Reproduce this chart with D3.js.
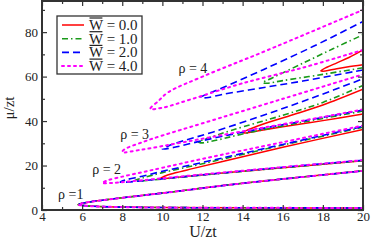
<!DOCTYPE html>
<html>
<head>
<meta charset="utf-8">
<script src="https://cdn.jsdelivr.net/npm/d3@7"></script>
<style>
body { margin: 0; background: #fff; }
svg { display: block; }
</style>
</head>
<body>
<svg id="chart"></svg>
<script>
// W-bar values shown in the legend
const wValues = ["0.0", "1.0", "2.0", "4.0"];

// lobe boundaries [U/zt, mu/zt]: from lower branch end at U=20, through tip, to upper branch end
const lobesW0 = [
    [[20, 0.9], [14, 1.0], [10, 1.1], [8, 1.3], [6.8, 1.6], [6.2, 1.9], [5.8, 2.4], [6.0, 3.0], [6.5, 3.8], [7, 4.4], [8, 5.5], [10, 7.6], [14, 12.0], [20, 17.6]],
    [[20, 22.2], [16, 19.0], [13, 16.6], [11, 15.0], [10.2, 14.2], [9.9, 14.2], [10.1, 15.2], [10.6, 16.6], [11.5, 18.6], [13, 21.8], [16, 28.2], [20, 36.2]],
    [[20, 43.2], [18, 40.2], [16, 37.4], [14.8, 35.6], [14.1, 34.6], [14.0, 34.8], [14.3, 36.2], [15, 38.6], [16.5, 42.8], [18, 47.2], [20, 54.3]],
    [[20, 65.3], [19.2, 64.3], [18.5, 63.2], [18.0, 62.4], [17.9, 62.6], [18.2, 64.2], [18.7, 66.2], [19.3, 68.6], [20, 72]]
];
const lobesW1 = [
    [[20, 0.9], [14, 1.0], [10, 1.1], [8, 1.3], [6.8, 1.6], [6.2, 1.9], [5.8, 2.4], [6.0, 3.0], [6.5, 3.8], [7, 4.4], [8, 5.5], [10, 7.6], [14, 12.0], [20, 17.6]],
    [[20, 22.2], [16, 19.0], [12, 15.7], [9.5, 13.5], [8.8, 13.0], [8.6, 13.2], [9, 14.4], [10, 16.8], [12, 20.8], [16, 29.2], [20, 37.2]],
    [[20, 44.5], [17, 39.5], [14, 34.2], [12.5, 31], [11.9, 30.2], [11.8, 30.6], [12.3, 32.4], [13.5, 36], [16, 42.6], [18, 48.4], [20, 56]],
    [[20, 64], [18, 61], [16, 58.2], [15.2, 57], [15.0, 57.2], [15.5, 59.5], [17, 66], [18.5, 72.5], [20, 78.8]]
];
const lobesW2 = [
    [[20, 0.9], [14, 1.0], [10, 1.1], [8, 1.3], [6.8, 1.6], [6.2, 1.9], [5.8, 2.4], [6.0, 3.0], [6.5, 3.8], [7, 4.4], [8, 5.5], [10, 7.6], [14, 12.0], [20, 17.6]],
    [[20, 22.4], [16, 19.2], [12, 15.8], [9.5, 13.6], [8.3, 12.6], [7.9, 12.6], [8.2, 13.6], [9, 15.2], [10, 17.4], [12, 21.4], [16, 29.5], [20, 37.6]],
    [[20, 45], [17, 40], [14, 35], [12, 31.2], [10.6, 28.2], [10, 27.4], [10.3, 28.8], [11, 31], [12.5, 35], [15, 42.5], [17.5, 50.5], [20, 59]],
    [[20, 63], [17, 58], [15, 55], [13, 52], [12.2, 50.5], [11.9, 50.6], [12.3, 52.4], [13, 55], [15, 63], [17.5, 73.5], [20, 84.8]]
];
const lobesW4 = [
    [[20, 0.9], [14, 1.0], [10, 1.1], [8, 1.3], [6.8, 1.6], [6.2, 1.9], [5.8, 2.4], [6.0, 3.0], [6.5, 3.8], [7, 4.4], [8, 5.5], [10, 7.6], [14, 12.0], [20, 17.6]],
    [[20, 22.4], [16, 19.3], [12, 16], [9, 13.4], [7.5, 12.2], [7, 12.2], [7.3, 13.4], [8, 15], [9, 17], [10, 19], [12, 23], [16, 30.5], [20, 38]],
    [[20, 45.2], [17, 40.2], [14, 35.4], [11, 30.4], [9, 27.2], [8, 26], [8.1, 27.2], [9, 30.5], [10, 33.5], [12, 39], [16, 50], [20, 61]],
    [[20, 72], [17, 64], [14, 57], [11.5, 50], [10, 46], [9.4, 45.5], [9.8, 49], [10.3, 53], [12, 60], [15, 71], [20, 90]]
];

const rhoLabels = ["\u03c1 =1", "\u03c1 = 2", "\u03c1 = 3", "\u03c1 = 4"];
const rhoLabelPos = [[4.8, 5.0], [6.5, 16.2], [7.9, 32], [10.8, 61.7]];

const xTicks = [4, 6, 8, 10, 12, 14, 16, 18, 20];
const yTicks = [0, 20, 40, 60, 80];

const styles = [
    { color: "#ff0000", dash: null, width: 1.5 },
    { color: "#1a9a1a", dash: "6,3,1.5,3", width: 1.6 },
    { color: "#0000ff", dash: "7,4", width: 1.6 },
    { color: "#ff00ff", dash: "2,4", width: 2 }
];

const width = 371, height = 240;
const mLeft = 42, mRight = 363, mTop = 1, mBottom = 210;

const svg = d3.select('#chart')
    .attr('width', width)
    .attr('height', height);

const x = d3.scaleLinear().domain([4, 20]).range([mLeft, mRight]);
const y = d3.scaleLinear().domain([0, 94]).range([mBottom, mTop]);

const line = d3.line()
    .x(d => x(d[0]))
    .y(d => y(d[1]))
    .curve(d3.curveCatmullRom.alpha(0.5));

svg.append('clipPath').attr('id', 'clip')
    .append('rect')
    .attr('x', mLeft).attr('y', mTop)
    .attr('width', mRight - mLeft).attr('height', mBottom - mTop);

const curves = svg.append('g').attr('clip-path', 'url(#clip)');
[lobesW0, lobesW1, lobesW2, lobesW4].forEach((lobes, i) => {
    const s = styles[i];
    curves.selectAll(null)
        .data(lobes)
        .enter()
        .append('path')
        .attr('d', line)
        .attr('fill', 'none')
        .attr('stroke', s.color)
        .attr('stroke-width', s.width)
        .attr('stroke-dasharray', s.dash)
        .attr('stroke-linecap', i === 3 ? 'round' : 'butt');
});

// axes with inward ticks, mirrored on top and right
const axisColor = '#333';
const fontSerif = '"Liberation Serif", "DejaVu Serif", serif';

function styleAxis(g) {
    g.select('.domain').remove();
    g.selectAll('line').attr('stroke', axisColor).attr('stroke-width', 1.2);
    g.selectAll('text').attr('font-family', fontSerif).attr('font-size', 13).attr('fill', '#222');
}

svg.append('g').attr('transform', `translate(0,${mBottom})`)
    .call(d3.axisBottom(x).tickValues(xTicks).tickSize(-5).tickPadding(2).tickFormat(d3.format('d')))
    .call(styleAxis);
svg.append('g').attr('transform', `translate(0,${mBottom})`)
    .call(d3.axisBottom(x).tickValues(d3.range(5, 20, 2)).tickSize(-3).tickFormat(''))
    .call(styleAxis);
svg.append('g').attr('transform', `translate(0,${mTop})`)
    .call(d3.axisTop(x).tickValues(xTicks).tickSize(-5).tickFormat(''))
    .call(styleAxis);
svg.append('g').attr('transform', `translate(0,${mTop})`)
    .call(d3.axisTop(x).tickValues(d3.range(5, 20, 2)).tickSize(-3).tickFormat(''))
    .call(styleAxis);

svg.append('g').attr('transform', `translate(${mLeft},0)`)
    .call(d3.axisLeft(y).tickValues(yTicks).tickSize(-5).tickPadding(4).tickFormat(d3.format('d')))
    .call(styleAxis);
svg.append('g').attr('transform', `translate(${mLeft},0)`)
    .call(d3.axisLeft(y).tickValues([10, 30, 50, 70, 90]).tickSize(-3).tickFormat(''))
    .call(styleAxis);
svg.append('g').attr('transform', `translate(${mRight},0)`)
    .call(d3.axisRight(y).tickValues(yTicks).tickSize(-5).tickFormat(''))
    .call(styleAxis);
svg.append('g').attr('transform', `translate(${mRight},0)`)
    .call(d3.axisRight(y).tickValues([10, 30, 50, 70, 90]).tickSize(-3).tickFormat(''))
    .call(styleAxis);

svg.append('rect')
    .attr('x', mLeft).attr('y', mTop)
    .attr('width', mRight - mLeft).attr('height', mBottom - mTop)
    .attr('fill', 'none')
    .attr('stroke', axisColor)
    .attr('stroke-width', 2);

// axis titles
svg.append('text')
    .attr('x', 203).attr('y', 237)
    .attr('text-anchor', 'middle')
    .attr('font-family', fontSerif).attr('font-size', 16).attr('fill', '#222')
    .text('U/zt');
svg.append('text')
    .attr('transform', 'translate(14,108) rotate(-90)')
    .attr('text-anchor', 'middle')
    .attr('font-family', fontSerif).attr('font-size', 15).attr('fill', '#222')
    .text('\u03bc/zt');

// rho labels
svg.selectAll('.rho')
    .data(rhoLabels)
    .enter()
    .append('text')
    .attr('x', (d, i) => x(rhoLabelPos[i][0]))
    .attr('y', (d, i) => y(rhoLabelPos[i][1]))
    .attr('font-family', fontSerif).attr('font-size', 14).attr('fill', '#222')
    .text(d => d);

// legend
const legend = svg.append('g');
legend.append('rect')
    .attr('x', 57).attr('y', 16).attr('width', 85).attr('height', 58)
    .attr('fill', '#fff').attr('stroke', axisColor).attr('stroke-width', 1.3);

wValues.forEach((w, i) => {
    const ly = 25 + i * 13.7;
    const s = styles[i];
    legend.append('line')
        .attr('x1', 62).attr('x2', 84).attr('y1', ly).attr('y2', ly)
        .attr('stroke', s.color).attr('stroke-width', s.width)
        .attr('stroke-dasharray', s.dash)
        .attr('stroke-linecap', i === 3 ? 'round' : 'butt');
    const label = legend.append('text')
        .attr('x', 89).attr('y', ly + 5)
        .attr('font-family', fontSerif).attr('font-size', 15).attr('fill', '#222')
        .text('W = ' + w);
    // bar over the W
    const ext = label.node().getExtentOfChar(0);
    legend.append('line')
        .attr('x1', ext.x + 0.5).attr('x2', ext.x + ext.width - 0.5)
        .attr('y1', ly - 7).attr('y2', ly - 7)
        .attr('stroke', '#222').attr('stroke-width', 1.2);
});
</script>
</body>
</html>
